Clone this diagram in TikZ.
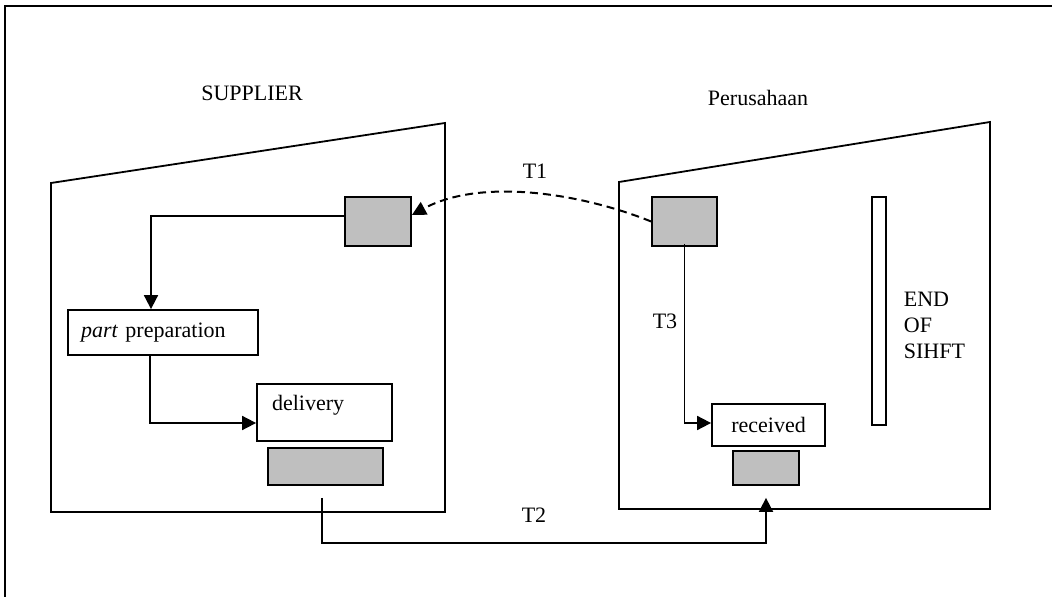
\documentclass[tikz,border=0pt]{standalone}
\usepackage{fontspec}
\setmainfont{Liberation Serif}
\usetikzlibrary{arrows.meta}
\tikzset{
  box/.style={draw, fill=white, inner sep=0pt},
  bin/.style={draw, fill=black!25, inner sep=0pt},
  flow/.style={-{Triangle[length=7pt,width=7pt]}},
}
\begin{document}
\begin{tikzpicture}[x=0.5pt, y=-0.5pt, font=\fontsize{11}{13}\selectfont, line width=0.9pt, line join=miter]
\useasboundingbox (0,0) rectangle (1052,597);
\draw (5,597) -- (5,6) -- (1052,6);
% gedung supplier dan perusahaan
\path (51,512) coordinate(S1) --++(0,-329) coordinate(S2)
  (445,123) coordinate(S3) (445,512) coordinate(S4)
  (619,509) coordinate(P1) --++(0,-327) coordinate(P2)
  (990,122) coordinate(P3) (990,509) coordinate(P4);
\draw (S1)--(S2)--(S3)--(S4)--cycle (P1)--(P2)--(P3)--(P4)--cycle;
% kotak
\node[bin, minimum width=33pt, minimum height=24.5pt] (kanban) at (378,221.5) {};
\node[box, minimum width=95pt, minimum height=22.5pt, text width=82pt, inner xsep=6.5pt, align=left] (prep) at (163,332.5) {\textit{part} preparation};
\node[box, minimum width=67.5pt, minimum height=28.5pt,
  label={[anchor=west, inner sep=0pt, xshift=7.5pt, yshift=3.75pt]west:delivery}] (deliv) at (324.5,412.5) {};
\node[bin, minimum width=57.5pt, minimum height=18.5pt] (sbin) at (325.5,466.5) {};
\node[bin, minimum width=32.5pt, minimum height=24.5pt] (order) at (684.5,221.5) {};
\node[box, minimum width=56.5pt, minimum height=21pt] (recv) at (768.5,425) {received};
\node[bin, minimum width=33pt, minimum height=17pt] (pbin) at (766,468) {};
\node[box, minimum width=7pt, minimum height=114pt] (shift) at (879,311) {};
\node[anchor=west, align=left, inner sep=0pt] (eos) at (903,325) {END\\OF\\SIHFT};
\foreach \t/\x/\y in {SUPPLIER/252/101, Perusahaan/758/106, T1/535/179, T2/534/522, T3/665/329}
  \node[anchor=base] (lbl\t) at (\x,\y) {\t};
% aliran
\draw[flow] ([yshift=2.75pt]kanban.west) -| ([xshift=-6pt]prep.north);
\draw[flow] ([xshift=-6.5pt]prep.south) |- ([yshift=-5.25pt]deliv.west);
\draw[flow] ([xshift=-1.75pt, yshift=-6pt]sbin.south) -- ++(0,45) -| ([yshift=-6pt]pbin.south);
\draw[flow] ([yshift=1.5pt]order.south) |- ([yshift=1pt]recv.west);
\draw[flow, dash pattern=on 4pt off 2.5pt, line width=1pt] (order.west) .. controls +(-72,-29) and +(68,-37) .. ([yshift=3.25pt]kanban.east);
\end{tikzpicture}
\end{document}
